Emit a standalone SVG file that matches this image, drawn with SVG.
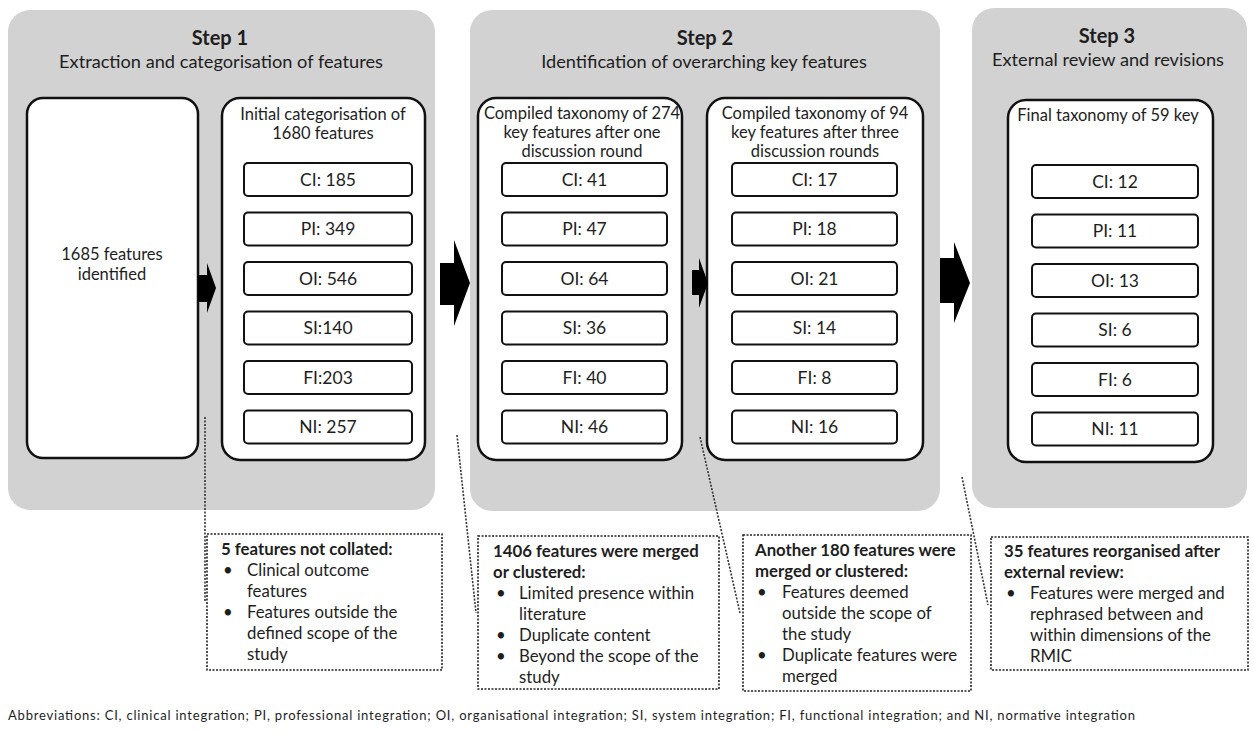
<svg xmlns="http://www.w3.org/2000/svg" width="1253" height="734" viewBox="0 0 1253 734">
<defs>
<style>
text{font-family:Lato,"Open Sans","Liberation Sans",sans-serif;fill:#1e1e1e}
.panel{fill:#d2d2d2}
.big{fill:#fff;stroke:#111;stroke-width:2.5}
.cat{fill:#fff;stroke:#111;stroke-width:2}
.arrow{fill:#000}
.note{fill:#fff;stroke:#222;stroke-width:1.6;stroke-dasharray:2 1.5}
.dot{fill:none;stroke:#333;stroke-width:1.6;stroke-dasharray:2 1.5}
.h1{font-size:20px;font-weight:bold;text-anchor:middle}
.h2{font-size:18.2px;text-anchor:middle}
.bt{font-size:16.5px;text-anchor:middle}
.c{font-size:17.5px;text-anchor:middle}
.n{font-size:16.8px}
.nb{font-size:16.8px;font-weight:bold}
.ab{font-size:13px}
</style>
</defs>
<rect width="1253" height="734" fill="#fff"/>
<g id="step1">
<rect class="panel" x="8" y="10" width="427" height="500" rx="22"/>
<text class="h1" x="220" y="45">Step 1</text>
<text class="h2" x="221" y="68">Extraction and categorisation of features</text>
</g>
<g id="step2">
<rect class="panel" x="470" y="10" width="470" height="501" rx="22"/>
<text class="h1" x="705" y="45">Step 2</text>
<text class="h2" x="704" y="68">Identification of overarching key features</text>
</g>
<g id="step3">
<rect class="panel" x="972" y="8" width="275" height="500" rx="22"/>
<text class="h1" x="1107" y="43">Step 3</text>
<text class="h2" x="1108" y="66">External review and revisions</text>
</g>
<g id="identified">
<rect class="big" x="27" y="98" width="171" height="360" rx="16"/>
<text class="bt" x="112" y="260">1685 features</text>
<text class="bt" x="112" y="280">identified</text>
</g>
<g id="initial">
<rect class="big" x="222" y="98" width="203" height="362" rx="18"/>
<text class="bt" x="323" y="120">Initial categorisation of</text>
<text class="bt" x="323" y="139">1680 features</text>
<rect class="cat" x="244" y="163" width="168" height="33" rx="4"/><text class="c" x="328" y="185.5">CI: 185</text>
<rect class="cat" x="244" y="212.5" width="168" height="33" rx="4"/><text class="c" x="328" y="235">PI: 349</text>
<rect class="cat" x="244" y="262" width="168" height="33" rx="4"/><text class="c" x="328" y="284.5">OI: 546</text>
<rect class="cat" x="244" y="311.5" width="168" height="33" rx="4"/><text class="c" x="328" y="334">SI:140</text>
<rect class="cat" x="244" y="361" width="168" height="33" rx="4"/><text class="c" x="328" y="383.5">FI:203</text>
<rect class="cat" x="244" y="410.5" width="168" height="33" rx="4"/><text class="c" x="328" y="433">NI: 257</text>
</g>
<g id="round1">
<rect class="big" x="478" y="98" width="204" height="362" rx="18"/>
<text class="bt" x="582" y="119">Compiled taxonomy of 274</text>
<text class="bt" x="582" y="138">key features after one</text>
<text class="bt" x="582" y="157">discussion round</text>
<rect class="cat" x="502" y="163" width="165" height="33" rx="4"/><text class="c" x="584.5" y="185.5">CI: 41</text>
<rect class="cat" x="502" y="212.5" width="165" height="33" rx="4"/><text class="c" x="584.5" y="235">PI: 47</text>
<rect class="cat" x="502" y="262" width="165" height="33" rx="4"/><text class="c" x="584.5" y="284.5">OI: 64</text>
<rect class="cat" x="502" y="311.5" width="165" height="33" rx="4"/><text class="c" x="584.5" y="334">SI: 36</text>
<rect class="cat" x="502" y="361" width="165" height="33" rx="4"/><text class="c" x="584.5" y="383.5">FI: 40</text>
<rect class="cat" x="502" y="410.5" width="165" height="33" rx="4"/><text class="c" x="584.5" y="433">NI: 46</text>
</g>
<g id="round3">
<rect class="big" x="707" y="98" width="216" height="362" rx="18"/>
<text class="bt" x="815" y="119">Compiled taxonomy of 94</text>
<text class="bt" x="815" y="138">key features after three</text>
<text class="bt" x="815" y="157">discussion rounds</text>
<rect class="cat" x="732" y="163" width="165" height="33" rx="4"/><text class="c" x="814.5" y="185.5">CI: 17</text>
<rect class="cat" x="732" y="212.5" width="165" height="33" rx="4"/><text class="c" x="814.5" y="235">PI: 18</text>
<rect class="cat" x="732" y="262" width="165" height="33" rx="4"/><text class="c" x="814.5" y="284.5">OI: 21</text>
<rect class="cat" x="732" y="311.5" width="165" height="33" rx="4"/><text class="c" x="814.5" y="334">SI: 14</text>
<rect class="cat" x="732" y="361" width="165" height="33" rx="4"/><text class="c" x="814.5" y="383.5">FI: 8</text>
<rect class="cat" x="732" y="410.5" width="165" height="33" rx="4"/><text class="c" x="814.5" y="433">NI: 16</text>
</g>
<g id="final">
<rect class="big" x="1008" y="100" width="205" height="362" rx="18"/>
<text class="bt" x="1108" y="121">Final taxonomy of 59 key</text>
<rect class="cat" x="1032" y="165" width="166" height="33" rx="4"/><text class="c" x="1115" y="187.5">CI: 12</text>
<rect class="cat" x="1032" y="214.5" width="166" height="33" rx="4"/><text class="c" x="1115" y="237">PI: 11</text>
<rect class="cat" x="1032" y="264" width="166" height="33" rx="4"/><text class="c" x="1115" y="286.5">OI: 13</text>
<rect class="cat" x="1032" y="313.5" width="166" height="33" rx="4"/><text class="c" x="1115" y="336">SI: 6</text>
<rect class="cat" x="1032" y="363" width="166" height="33" rx="4"/><text class="c" x="1115" y="385.5">FI: 6</text>
<rect class="cat" x="1032" y="412.5" width="166" height="33" rx="4"/><text class="c" x="1115" y="435">NI: 11</text>
</g>
<g id="connectors">
<polygon class="arrow" points="198,275 207,275 207,263 216,288 207,313 207,302 198,302"/>
<polygon class="arrow" points="440,263 454,263 454,240 470,283 454,326 454,305 440,305"/>
<polygon class="arrow" points="692,270 699,270 699,258 708,283 699,308 699,295 692,295"/>
<polygon class="arrow" points="940,258 954,258 954,242 970,283 954,323 954,303 940,303"/>
<line class="dot" x1="205" y1="417" x2="205" y2="602"/>
<line class="dot" x1="457" y1="435" x2="476" y2="613"/>
<line class="dot" x1="700" y1="437" x2="740" y2="613"/>
<line class="dot" x1="962" y1="477" x2="988" y2="605"/>
</g>
<g id="note1">
<rect class="note" x="207" y="534" width="235" height="136"/>
<text class="nb" x="221" y="555">5 features not collated:</text>
<text class="n" x="223" y="576">•</text><text class="n" x="247" y="576">Clinical outcome</text>
<text class="n" x="247" y="597">features</text>
<text class="n" x="223" y="618">•</text><text class="n" x="247" y="618">Features outside the</text>
<text class="n" x="247" y="639">defined scope of the</text>
<text class="n" x="247" y="660">study</text>
</g>
<g id="note2">
<rect class="note" x="478" y="536" width="241" height="153"/>
<text class="nb" x="493" y="557">1406 features were merged</text>
<text class="nb" x="493" y="578">or clustered:</text>
<text class="n" x="496" y="599">•</text><text class="n" x="519" y="599">Limited presence within</text>
<text class="n" x="519" y="620">literature</text>
<text class="n" x="496" y="641">•</text><text class="n" x="519" y="641">Duplicate content</text>
<text class="n" x="496" y="662">•</text><text class="n" x="519" y="662">Beyond the scope of the</text>
<text class="n" x="519" y="683">study</text>
</g>
<g id="note3">
<rect class="note" x="743" y="535" width="228" height="156"/>
<text class="nb" x="755" y="556">Another 180 features were</text>
<text class="nb" x="755" y="577">merged or clustered:</text>
<text class="n" x="757" y="598">•</text><text class="n" x="782" y="598">Features deemed</text>
<text class="n" x="782" y="619">outside the scope of</text>
<text class="n" x="782" y="640">the study</text>
<text class="n" x="757" y="661">•</text><text class="n" x="782" y="661">Duplicate features were</text>
<text class="n" x="782" y="682">merged</text>
</g>
<g id="note4">
<rect class="note" x="991" y="537" width="257" height="133"/>
<text class="nb" x="1004" y="557">35 features reorganised after</text>
<text class="nb" x="1004" y="578">external review:</text>
<text class="n" x="1006" y="599">•</text><text class="n" x="1030" y="599">Features were merged and</text>
<text class="n" x="1030" y="620">rephrased between and</text>
<text class="n" x="1030" y="641">within dimensions of the</text>
<text class="n" x="1030" y="662">RMIC</text>
</g>
<text class="ab" x="8" y="720" textLength="1127">Abbreviations: CI, clinical integration; PI, professional integration; OI, organisational integration; SI, system integration; FI, functional integration; and NI, normative integration</text>
</svg>
